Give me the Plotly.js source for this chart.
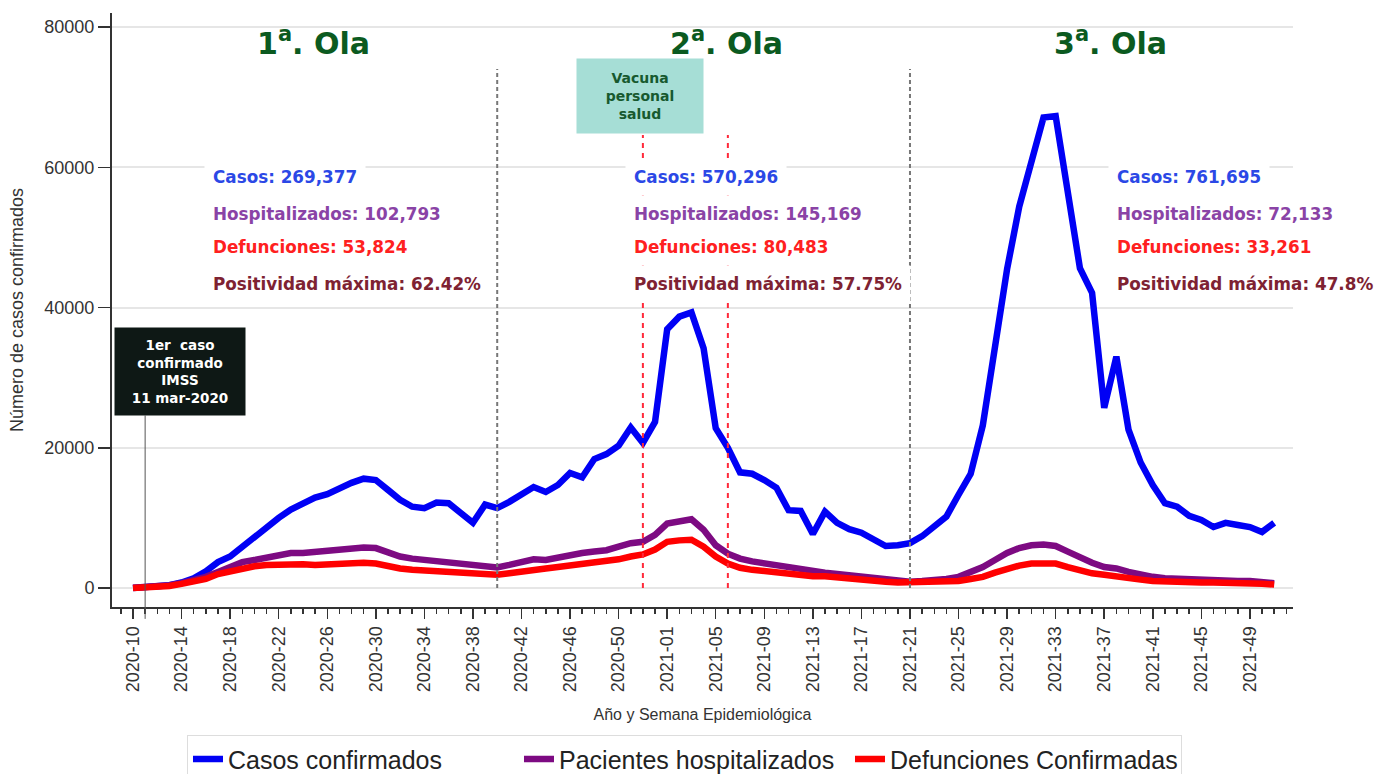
<!DOCTYPE html>
<html><head><meta charset="utf-8">
<script src="https://cdn.plot.ly/plotly-3.0.1.min.js"></script>
<style>html,body{margin:0;padding:0;background:#fff}</style>
</head><body><div id="chart" style="width:1378px;height:774px"></div>
<script>
const weeks = [
 '2020-10','2020-11','2020-12','2020-13','2020-14','2020-15','2020-16','2020-17','2020-18','2020-19',
 '2020-20','2020-21','2020-22','2020-23','2020-24','2020-25','2020-26','2020-27','2020-28','2020-29',
 '2020-30','2020-31','2020-32','2020-33','2020-34','2020-35','2020-36','2020-37','2020-38','2020-39',
 '2020-40','2020-41','2020-42','2020-43','2020-44','2020-45','2020-46','2020-47','2020-48','2020-49',
 '2020-50','2020-51','2020-52','2020-53',
 '2021-01','2021-02','2021-03','2021-04','2021-05','2021-06','2021-07','2021-08','2021-09','2021-10',
 '2021-11','2021-12','2021-13','2021-14','2021-15','2021-16','2021-17','2021-18','2021-19','2021-20',
 '2021-21','2021-22','2021-23','2021-24','2021-25','2021-26','2021-27','2021-28','2021-29','2021-30',
 '2021-31','2021-32','2021-33','2021-34','2021-35','2021-36','2021-37','2021-38','2021-39','2021-40',
 '2021-41','2021-42','2021-43','2021-44','2021-45','2021-46','2021-47','2021-48','2021-49','2021-50',
 '2021-51'
];
const casos = [
 0,100,200,400,800,1400,2400,3700,4500,5900,
 7200,8600,10000,11200,12100,12900,13400,14300,15000,15600,
 15400,14000,12600,11600,11400,12200,12100,10700,9300,11900,
 11400,12300,13300,14400,13700,14700,16400,15800,18400,19100,
 20300,22900,20700,23700,
 36900,38700,39300,34200,22800,20000,16500,16300,15400,14300,
 11100,11000,7700,10900,9300,8400,7900,7000,6000,6100,
 6400,7400,8700,10200,13300,16300,23200,35000,45500,54400,
 60700,67100,67300,56500,45600,42100,25700,33000,22600,17900,
 14700,12100,11600,10300,9700,8700,9300,9000,8700,8000,
 9300
];
const hospitalizados = [
 50,100,200,400,700,1100,1600,2300,3000,3700,
 4000,4400,4800,5000,5000,5200,5200,5500,5800,5800,
 5700,5000,4500,4200,4000,3900,3600,3400,3200,3000,
 2950,3300,3700,4100,4000,4400,4800,5000,5200,5400,
 5900,6400,6600,7600,
 9200,9500,9800,8300,6100,4900,4200,3800,3500,3200,
 2900,2600,2300,2200,2000,1800,1500,1300,1100,1000,
 900,1000,1100,1300,1600,2300,3000,4000,5000,5700,
 6100,6200,6000,5200,4300,3600,3000,2800,2300,1900,
 1600,1400,1300,1200,1100,1100,1100,1000,1000,900,
 700
];
const defunciones = [
 0,50,150,300,600,1000,1300,2000,2400,2900,
 3100,3300,3400,3400,3400,3300,3400,3500,3700,3600,
 3500,3100,2800,2600,2500,2300,2200,2000,1900,1850,
 1900,2100,2400,2700,2800,3000,3200,3500,3600,3700,
 4100,4500,4800,5500,
 6600,6800,6900,5900,4500,3500,2900,2600,2400,2200,
 2000,1900,1700,1700,1500,1300,1200,1000,900,800,
 800,800,800,900,1000,1300,1600,2200,2800,3200,
 3500,3600,3500,3000,2500,2100,1900,1600,1400,1200,
 1000,900,900,800,800,800,800,800,700,600,
 500
];
const seriesNames = ['Casos confirmados','Pacientes hospitalizados','Defunciones Confirmadas'];
const tickLabels = ['2020-10','2020-14','2020-18','2020-22','2020-26','2020-30','2020-34','2020-38',
 '2020-42','2020-46','2020-50','2021-01','2021-05','2021-09','2021-13','2021-17','2021-21','2021-25',
 '2021-29','2021-33','2021-37','2021-41','2021-45','2021-49'];
const yTicks = [0,20000,40000,60000,80000];
const waveTitles = ['1<sup>a</sup>. Ola','2<sup>a</sup>. Ola','3<sup>a</sup>. Ola'];
const waveCasos = ['269,377','570,296','761,695'];
const waveHosp = ['102,793','145,169','72,133'];
const waveDef = ['53,824','80,483','33,261'];
const wavePos = ['62.42%','57.75%','47.8%'];
const waveLimits = ['2020-40','2021-21'];
const vaccineWeeks = ['2020-52','2021-06'];
const firstCaseWeek = '2020-11';

const xIdx = weeks.map((w,i)=>i);
const ix = w => weeks.indexOf(w);

const colors = ['#0000f5','#7d0a82','#ff0000'];
const traces = [casos,hospitalizados,defunciones].map((ys,k)=>({
  type:'scatter', mode:'lines', x:xIdx, y:ys, name:seriesNames[k],
  line:{color:colors[k], width:6.5, shape:'linear'}, hoverinfo:'skip'
}));

const yMin = -2700, yMax = 82000;
const shapes = [];
waveLimits.forEach(w=>shapes.push({type:'line', xref:'x', yref:'y', x0:ix(w), x1:ix(w), y0:0, y1:74000,
  line:{color:'#777', width:2, dash:'4px,3px'}, layer:'above'}));
vaccineWeeks.forEach(w=>shapes.push({type:'line', xref:'x', yref:'y', x0:ix(w), x1:ix(w), y0:0, y1:64600,
  line:{color:'#ff2a3a', width:2, dash:'5px,5px'}, layer:'above'}));
shapes.push({type:'line', xref:'x', yref:'paper', x0:ix(firstCaseWeek), x1:ix(firstCaseWeek), y0:-0.02, y1:(24600-yMin)/(yMax-yMin),
  line:{color:'#555', width:1}, layer:'above'});

const annotations = [];
const titleX = [14.9, 48.9, 80.5];
waveTitles.forEach((t,k)=>annotations.push({x:titleX[k], y:78000, xref:'x', yref:'y', text:'<b>'+t+'</b>',
  showarrow:false, font:{family:'DejaVu Sans', size:30, color:'#0b5a20'}, xanchor:'center', yanchor:'middle'}));
const blockX = [5.85, 40.55, 80.3];
const lineY = [58600, 53300, 48600, 43400];
const txtColors = ['#2b48e6','#8a43a6','#ff2020','#7e2232'];
blockX.forEach((bx,k)=>{
  const lines = ['Casos: '+waveCasos[k], 'Hospitalizados: '+waveHosp[k], 'Defunciones: '+waveDef[k], 'Positividad máxima: '+wavePos[k]];
  lines.forEach((ln,j)=>annotations.push({x:bx, y:lineY[j], xref:'x', yref:'y', text:'<b>'+ln+'</b>', showarrow:false,
    xanchor:'left', yanchor:'middle', font:{family:'DejaVu Sans', size:16.8, color:txtColors[j]}, bgcolor:'#ffffff', borderpad:8}));
});
annotations.push({x:41.76, y:70100, xref:'x', yref:'y', text:'<b>Vacuna<br>personal<br>salud</b>', showarrow:false,
  font:{family:'DejaVu Sans', size:14, color:'#17592f'}, bgcolor:'#a6ded6', width:126, height:74, borderpad:0,
  xanchor:'center', yanchor:'middle'});
annotations.push({x:3.87, y:30860, xref:'x', yref:'y', text:'<b>1er  caso<br>confirmado<br>IMSS<br>11 mar-2020</b>', showarrow:false,
  font:{family:'DejaVu Sans', size:13.5, color:'#ffffff'}, bgcolor:'#0e1815', width:130, height:87, borderpad:0,
  xanchor:'center', yanchor:'middle'});

const layout = {
  width:1378, height:774,
  margin:{l:112, r:85, t:13, b:167, autoexpand:false},
  paper_bgcolor:'#ffffff', plot_bgcolor:'#ffffff',
  showlegend:true,
  legend:{orientation:'h', x:0.0635, y:0.05, xref:'paper', yref:'container', xanchor:'left', yanchor:'top',
    font:{family:'Liberation Sans, Arial', size:25, color:'#222'}, bordercolor:'#dddddd', borderwidth:1,
    entrywidthmode:'pixels', entrywidth:286},
  xaxis:{range:[-1.73,95.55], tickmode:'array', tickvals:tickLabels.map(ix), ticktext:tickLabels, tickangle:-90,
    automargin:false,
    ticks:'outside', ticklen:10, tickwidth:1.5, tickcolor:'#333',
    minor:{ticks:'outside', ticklen:5, tickwidth:1.5, tickcolor:'#333', dtick:1, tick0:0, showgrid:false},
    showline:true, linecolor:'#333', linewidth:2, showgrid:false, zeroline:false,
    tickfont:{family:'Liberation Sans, Arial', size:18, color:'#333'},
    title:{text:'Año y Semana Epidemiológica', font:{family:'Liberation Sans, Arial', size:16, color:'#333'}, standoff:18}},
  yaxis:{range:[yMin,yMax], tickmode:'array', tickvals:yTicks, tickformat:'d',
    automargin:false,
    ticks:'outside', ticklen:12, tickwidth:1.5, tickcolor:'#333',
    showline:true, linecolor:'#333', linewidth:2, showgrid:true, gridcolor:'#e6e6e6', gridwidth:2, zeroline:false,
    tickfont:{family:'Liberation Sans, Arial', size:18, color:'#333'},
    title:{text:'Número de casos confirmados', font:{family:'Liberation Sans, Arial', size:18, color:'#333'}, standoff:16}},
  shapes:shapes, annotations:annotations
};
Plotly.newPlot('chart', traces, layout, {displayModeBar:false, staticPlot:true});
</script></body></html>
